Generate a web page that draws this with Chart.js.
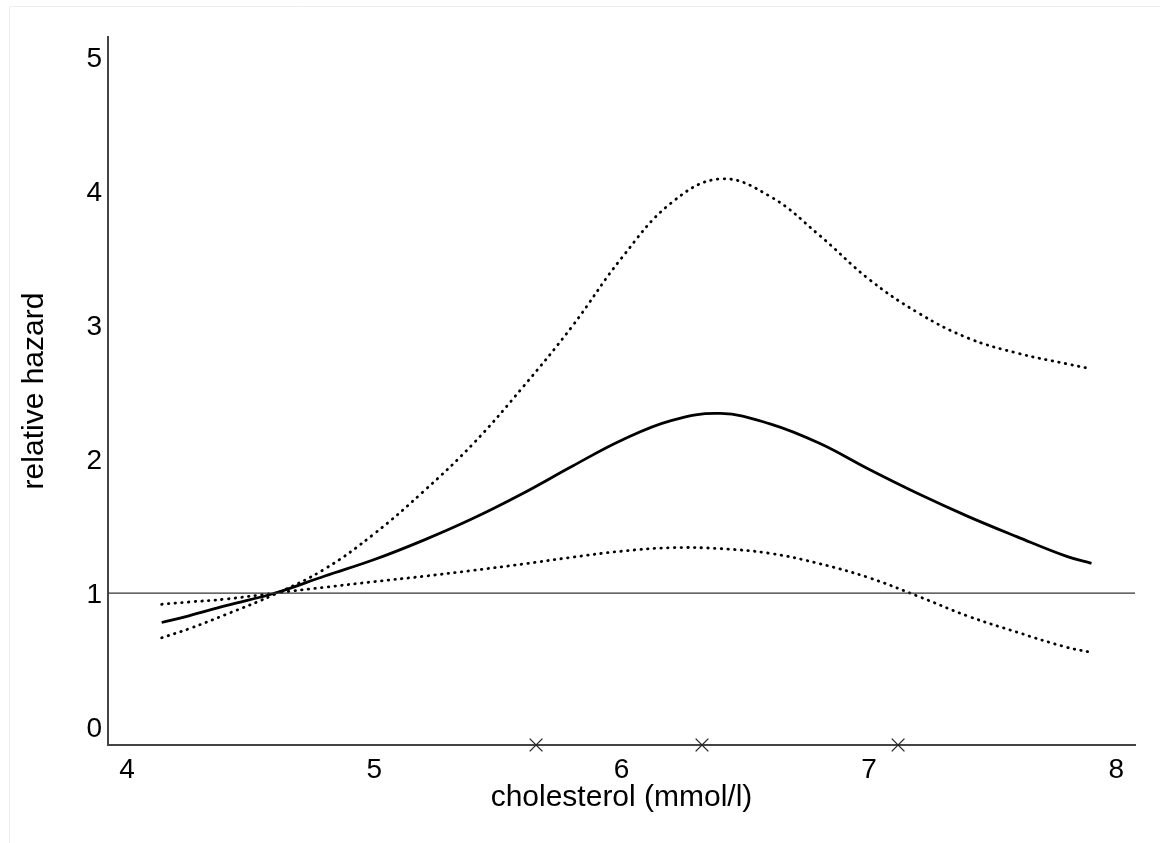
<!DOCTYPE html>
<html>
<head>
<meta charset="utf-8">
<script src="https://cdn.jsdelivr.net/npm/chart.js@4.4.1/dist/chart.umd.min.js"></script>
<style>
  html, body { margin: 0; padding: 0; background: #fff; }
  #wrap { width: 1160px; height: 843px; position: relative; }
</style>
</head>
<body>
<div id="wrap"><canvas id="hazard" width="1160" height="843"></canvas></div>
<script>
// cholesterol grid (mmol/l) and the fitted curves
const cholesterol = [4.14, 4.25, 4.4, 4.6, 4.8, 5.0, 5.2, 5.4, 5.6, 5.8, 6.0, 6.2, 6.4, 6.6, 6.8, 7.0, 7.2, 7.4, 7.6, 7.8, 7.9];
const hazard = [0.78, 0.83, 0.906, 1.0, 1.127, 1.25, 1.395, 1.558, 1.743, 1.946, 2.14, 2.287, 2.34, 2.262, 2.117, 1.923, 1.74, 1.572, 1.419, 1.273, 1.222];
const upperCI = [0.666, 0.733, 0.84, 0.993, 1.18, 1.443, 1.76, 2.115, 2.535, 2.99, 3.50, 3.91, 4.09, 3.96, 3.669, 3.342, 3.09, 2.903, 2.79, 2.71, 2.672];
const lowerCI = [0.916, 0.933, 0.955, 1.0, 1.043, 1.085, 1.125, 1.169, 1.216, 1.267, 1.312, 1.338, 1.331, 1.296, 1.219, 1.114, 0.975, 0.828, 0.707, 0.595, 0.557];

// knot positions marked on the x axis
const knots = [5.654, 6.325, 7.118];

// axis ticks and limits
const xTicks = [4, 5, 6, 7, 8];
const yTicks = [0, 1, 2, 3, 4, 5];
const xMin = 3.923, xMax = 8.076;
const yMin = -0.134, yMax = 5.149;
const refLevel = 1;

function pts(ys) {
  return cholesterol.map((c, i) => ({x: c, y: ys[i]}));
}

//faint frame round the picture
const framePlugin = {
  id: 'frame',
  beforeDraw(chart) {
    const ctx = chart.ctx;
    ctx.save();
    ctx.strokeStyle = '#e9efef';
    ctx.lineWidth = 1;
    ctx.beginPath();
    ctx.moveTo(9.5, 900);
    ctx.lineTo(9.5, 6.5);
    ctx.lineTo(1200, 6.5);
    ctx.stroke();
    ctx.restore();
  }
};

const fontFam = "'Liberation Sans', Arial, sans-serif";
const dotted = {
  borderColor: '#000',
  borderWidth: 2.8,
  borderDash: [0.5, 6.2],
  borderCapStyle: 'round',
  pointRadius: 0,
  fill: false,
  tension: 0.4
};

let chart = new Chart(document.getElementById('hazard'), {
  type: 'line',
  data: {
    datasets: [{
      label: 'reference',
      data: [{x: xMin, y: refLevel}, {x: xMax, y: refLevel}],
      borderColor: '#333',
      borderWidth: 1.2,
      pointRadius: 0
    }, Object.assign({
      label: 'upper 95% CI',
      data: pts(upperCI)
    }, dotted), Object.assign({
      label: 'lower 95% CI',
      data: pts(lowerCI)
    }, dotted), {
      label: 'relative hazard',
      data: pts(hazard),
      borderColor: '#000',
      borderWidth: 2.8,
      pointRadius: 0,
      tension: 0.4
    }, {
      label: 'knots',
      data: knots.map(k => ({x: k, y: yMin})),
      showLine: false,
      pointStyle: 'crossRot',
      pointRadius: 9,
      pointBorderWidth: 1.3,
      pointBorderColor: '#222',
      clip: false
    }]
  },
  options: {
    responsive: false,
    animation: false,
    devicePixelRatio: 1,
    layout: { padding: { top: 37, right: 25, bottom: 0, left: 0 } },
    plugins: {
      legend: { display: false },
      tooltip: { enabled: false }
    },
    scales: {
      x: {
        type: 'linear',
        min: xMin,
        max: xMax,
        grid: { display: false, drawTicks: false },
        border: { display: true, color: '#444', width: 2 },
        afterBuildTicks: s => { s.ticks = xTicks.map(v => ({value: v})); },
        afterFit: s => { s.height = 98; },
        ticks: {
          color: '#000',
          padding: 8,
          maxRotation: 0,
          font: { family: fontFam, size: 28 }
        },
        title: {
          display: true,
          text: 'cholesterol (mmol/l)',
          color: '#000',
          padding: { top: 0, bottom: 27 },
          font: { family: fontFam, size: 30 }
        }
      },
      y: {
        type: 'linear',
        min: yMin,
        max: yMax,
        grid: { display: false, drawTicks: false },
        border: { display: true, color: '#444', width: 2 },
        afterBuildTicks: s => { s.ticks = yTicks.map(v => ({value: v})); },
        afterFit: s => { s.width = 108; },
        ticks: {
          color: '#000',
          padding: 6,
          labelOffset: 2,
          font: { family: fontFam, size: 28 }
        },
        title: {
          display: true,
          text: 'relative hazard',
          color: '#000',
          padding: { top: 17, bottom: 0 },
          font: { family: fontFam, size: 30 }
        }
      }
    }
  },
  plugins: [framePlugin]
});
</script>
</body>
</html>
